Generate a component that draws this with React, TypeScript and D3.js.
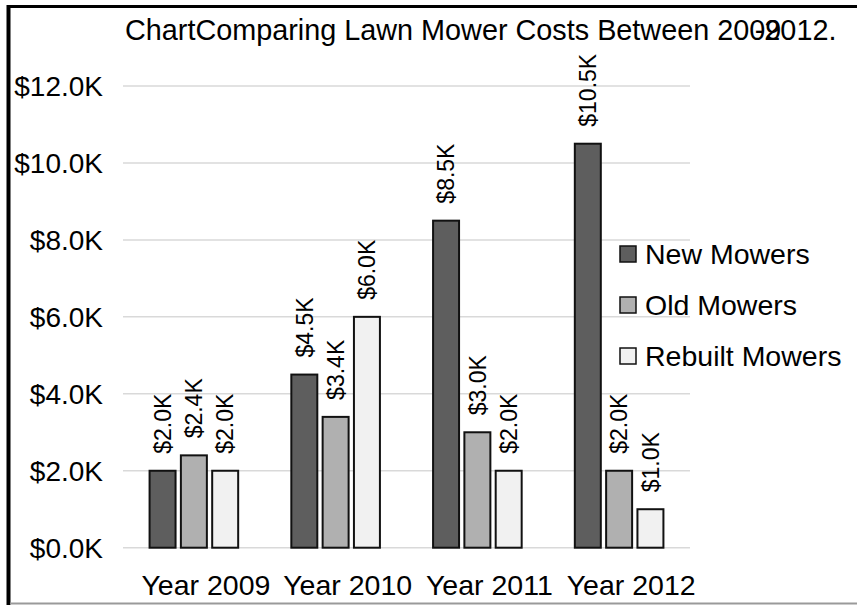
import React from "react";
import * as d3 from "d3";

const years = ["Year 2009", "Year 2010", "Year 2011", "Year 2012"];
const seriesNames = ["New Mowers", "Old Mowers", "Rebuilt Mowers"];
const newMowers = [2.0, 4.5, 8.5, 10.5];
const oldMowers = [2.4, 3.4, 3.0, 2.0];
const rebuiltMowers = [2.0, 6.0, 2.0, 1.0];
const yTicks = [0, 2, 4, 6, 8, 10, 12];
const seriesColors = ["#5e5e5e", "#b0b0b0", "#f1f1f1"];
const titleMain = "ChartComparing Lawn Mower Costs Between 2009";
const titleTail = "-2012.";

const W = 857;
const H = 605;
const FONT = "'Liberation Sans', Arial, sans-serif";

export default function App() {
  const seriesValues = [newMowers, oldMowers, rebuiltMowers];
  const x0 = d3.scaleBand<string>().domain(years).range([123, 690]).paddingInner(0).paddingOuter(0);
  const bw = x0.bandwidth();
  const x1 = d3
    .scaleBand<string>()
    .domain(seriesNames)
    .range([bw / 2 - 44.3, bw / 2 + 44.3])
    .paddingInner(0.17)
    .paddingOuter(0);
  const y = d3.scaleLinear().domain([0, 12]).range([547.7, 86]);
  const fmt = (v: number) => "$" + d3.format(".1f")(v) + "K";

  return (
    <div style={{ position: "fixed", left: 0, top: 0 }}>
      <svg width={W} height={H} style={{ display: "block", fontFamily: FONT }}>
        <rect x={0} y={0} width={W} height={H} fill="#fff" />
        {/* frame */}
        <line x1={7} x2={W} y1={6.5} y2={6.5} stroke="#000" strokeWidth={3} />
        <line x1={8.5} x2={8.5} y1={5} y2={H} stroke="#000" strokeWidth={4} />
        <line x1={10} x2={W} y1={603.5} y2={603.5} stroke="#9a9a9a" strokeWidth={2} />

        {/* title */}
        <text x={125} y={40} fontSize={28.8} fill="#000">
          {titleMain}
          <tspan dx="-0.92em">{titleTail}</tspan>
        </text>

        {/* gridlines & y labels */}
        {yTicks.map((t) => (
          <g key={t}>
            <line x1={123} x2={690} y1={y(t)} y2={y(t)} stroke="#d9d9d9" strokeWidth={1.5} />
            <text x={103} y={y(t) + 10} textAnchor="end" fontSize={28} fill="#000">
              {fmt(t)}
            </text>
          </g>
        ))}

        {/* bars */}
        {years.map((yr, i) => (
          <g key={yr} transform={`translate(${x0(yr)},0)`}>
            {seriesNames.map((s, j) => {
              const v = seriesValues[j][i];
              const bx = x1(s)!;
              const top = y(v);
              const cx = bx + x1.bandwidth() / 2;
              return (
                <g key={s}>
                  <rect
                    x={bx}
                    y={top}
                    width={x1.bandwidth()}
                    height={y(0) - top}
                    fill={seriesColors[j]}
                    stroke="#111"
                    strokeWidth={2}
                  />
                  <text
                    transform={`translate(${cx},${top - 17}) rotate(-90)`}
                    dy="0.36em"
                    textAnchor="start"
                    fontSize={23}
                    fill="#000"
                  >
                    {fmt(v)}
                  </text>
                </g>
              );
            })}
          </g>
        ))}

        {/* x labels */}
        {years.map((yr) => (
          <text
            key={yr}
            x={x0(yr)! + bw / 2 + 12}
            y={595}
            textAnchor="middle"
            fontSize={28.5}
            fill="#000"
          >
            {yr}
          </text>
        ))}

        {/* legend */}
        {seriesNames.map((s, j) => {
          const cy = 254 + j * 51;
          return (
            <g key={s}>
              <rect x={620} y={cy - 8} width={16} height={16} fill={seriesColors[j]} stroke="#111" strokeWidth={1.5} />
              <text x={645} y={cy + 10} fontSize={28.5} fill="#000">
                {s}
              </text>
            </g>
          );
        })}
      </svg>
    </div>
  );
}
